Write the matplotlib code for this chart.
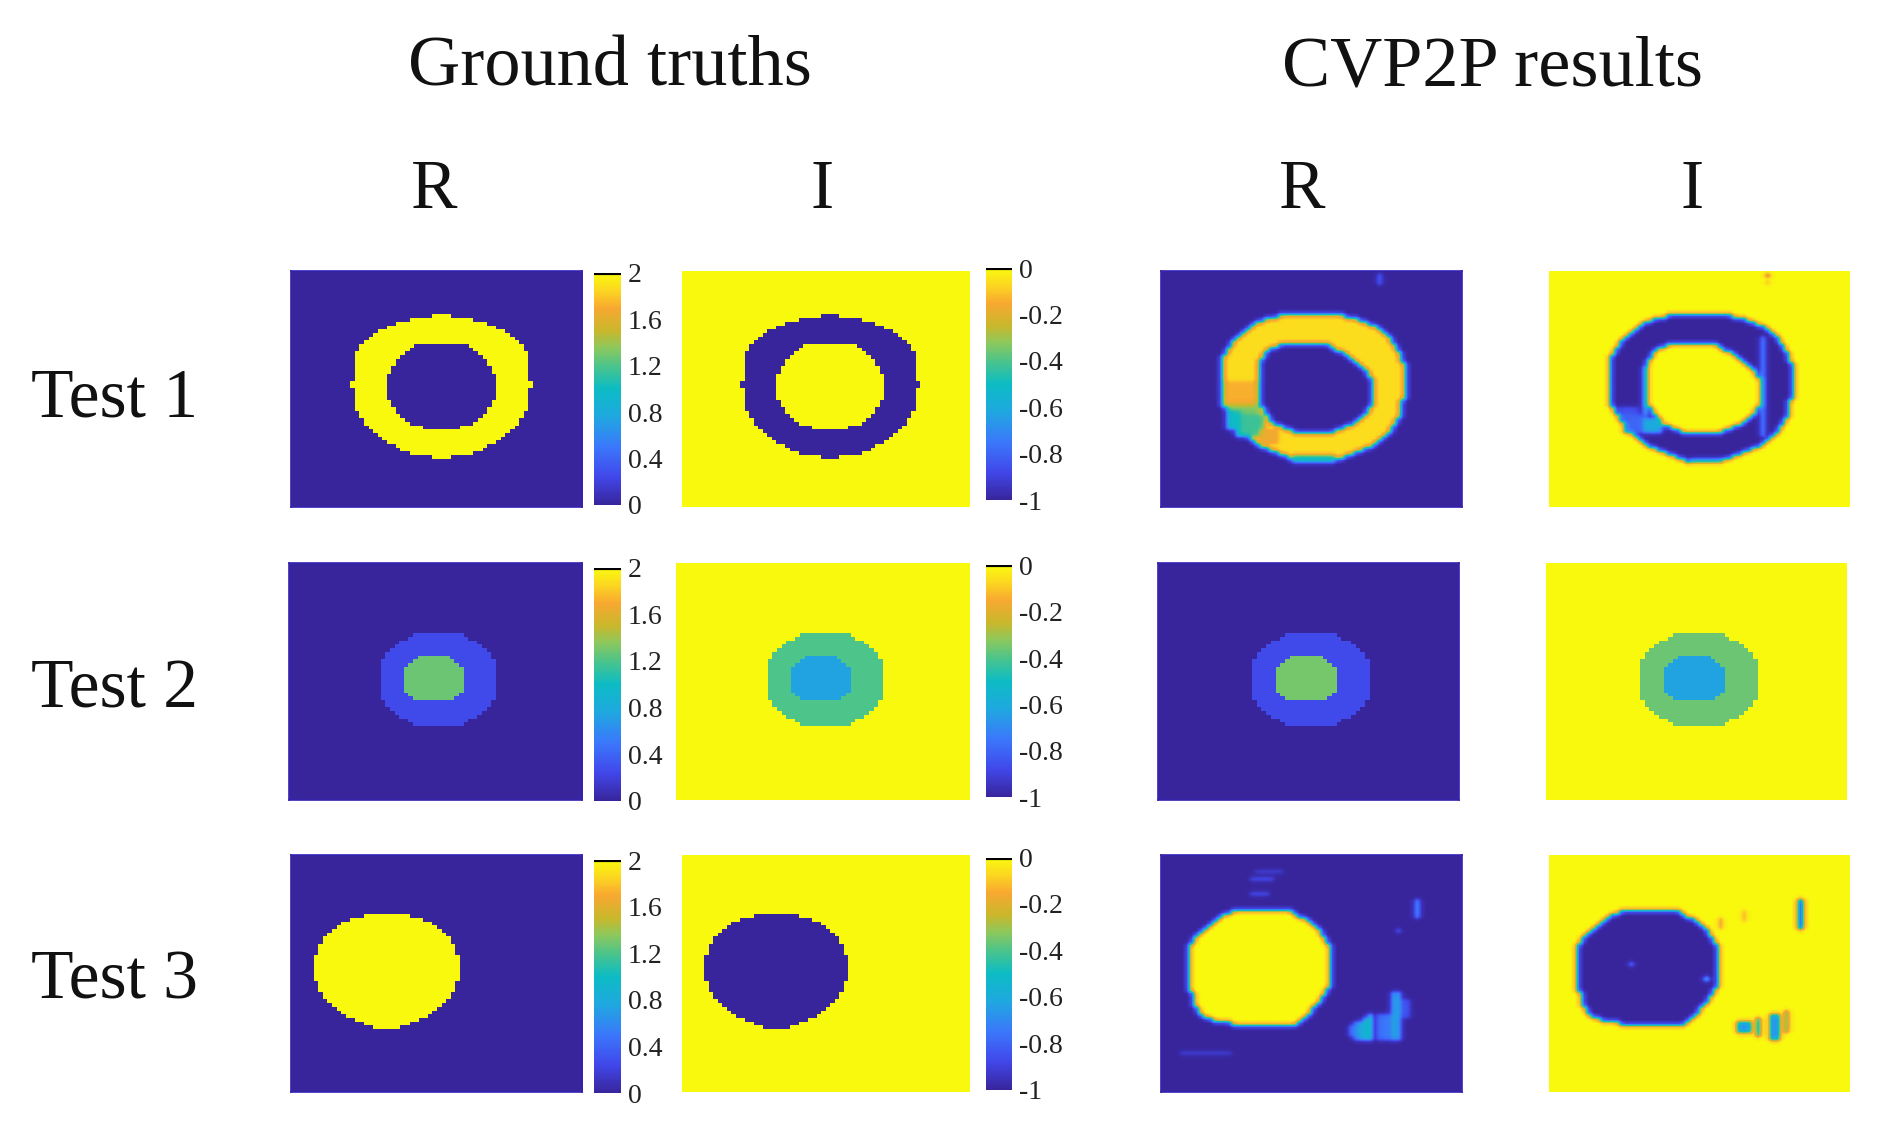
#!/usr/bin/env python

import numpy as np
import matplotlib
matplotlib.use('Agg')
from matplotlib import pyplot as plt
from matplotlib import cm
from matplotlib.colors import LinearSegmentedColormap, Normalize

plt.rcParams['font.family'] = ['Liberation Serif', 'DejaVu Serif']

GRID = 64
TITLES = ['Ground truths', 'CVP2P results']
COLUMNS = ['R', 'I', 'R', 'I']
ROWS = ['Test 1', 'Test 2', 'Test 3']
R_TICKS = [0, 0.4, 0.8, 1.2, 1.6, 2]
R_LABELS = ['0', '0.4', '0.8', '1.2', '1.6', '2']
I_TICKS = [-1, -0.8, -0.6, -0.4, -0.2, 0]
I_LABELS = ['-1', '-0.8', '-0.6', '-0.4', '-0.2', '0']

# half widths of the stepped shapes, one entry per grid row
RING_OUTER = [2, 7, 10, 12, 14, 15, 16, 17, 18, 18, 19, 19, 19, 19, 19, 19, 19, 19, 20, 20,
              19, 19, 19, 19, 19, 19, 18, 18, 17, 17, 16, 15, 14, 13, 12, 10, 9, 7, 2]
RING_INNER = [6, 7, 8, 9, 10, 10, 11, 11, 12, 12, 12, 12, 12, 12, 12, 11, 11, 10, 10, 9, 8, 7, 4]
T2_OUTER = [5, 6, 8, 9, 10, 11, 11, 12, 12, 12, 12, 12, 12, 12, 12, 12, 12, 12, 11, 11, 10, 9, 8, 6, 5]
T2_INNER = [3, 4, 5, 6, 6, 6, 6, 6, 6, 6, 5, 4]
T3_BLOB = [5, 8, 10, 11, 12, 13, 14, 14, 15, 15, 15, 16, 16, 16, 16, 16, 16, 16, 15,
           15, 15, 14, 14, 13, 12, 11, 10, 9, 7, 5, 3]

# left and right columns of the predicted shapes, row by row
PRED_RING_L = [25, 22, 20, 19, 18, 17, 16, 15, 15, 14, 14, 13, 13, 13, 13, 13, 13, 13, 13, 13,
               13, 13, 13, 13, 13, 14, 14, 15, 15, 16, 17, 18, 18, 19, 20, 21, 23, 25, 27, 29]
PRED_RING_R = [38, 41, 43, 45, 46, 47, 48, 48, 49, 49, 50, 50, 50, 51, 51, 51, 51, 51, 51, 51,
               51, 51, 51, 50, 50, 50, 50, 50, 49, 49, 48, 48, 47, 46, 45, 44, 42, 40, 38, 34]
PRED_HOLE_L = [25, 23, 22, 22, 21, 21, 21, 21, 21, 21, 21, 21, 21, 21, 21, 21, 21,
               22, 22, 23, 23, 24, 26, 28]
PRED_HOLE_R = [35, 36, 38, 39, 40, 41, 42, 43, 43, 44, 44, 44, 44, 44, 44,
               44, 44, 43, 43, 42, 41, 40, 38, 36]
PRED_BLOB_L = [15, 13, 12, 11, 10, 9, 8, 7, 7, 6, 6, 6, 6, 6, 6, 6, 6, 6, 6, 6, 6, 6,
               7, 7, 7, 7, 8, 8, 9, 11, 15]
PRED_BLOB_R = [27, 28, 30, 31, 32, 33, 33, 34, 34, 35, 35, 35, 35, 35, 35, 35, 35, 35, 35, 35, 35,
               34, 34, 33, 33, 32, 31, 31, 30, 29, 28]

# artefacts in the network output: first row, last row, first col, last col, value
T1_R_SPOTS = [(30, 36, 13, 20, 1.72), (36, 37, 14, 20, 1.5), (37, 39, 14, 20, 1.3),
              (39, 44, 16, 21, 1.15), (38, 42, 14, 16, 1.0), (43, 46, 21, 24, 1.65),
              (50, 51, 28, 36, 1.0), (1, 3, 46, 46, 0.4)]
T1_I_SPOTS = [(37, 39, 15, 18, -0.85), (39, 43, 16, 20, -0.8), (40, 43, 20, 23, -0.6),
              (26, 38, 20, 20, -0.6), (18, 44, 45, 45, -0.7),
              (51, 51, 30, 36, -0.6), (1, 1, 46, 46, -0.4), (3, 3, 46, 46, -0.15)]
T3_R_SPOTS = [(12, 16, 54, 54, 0.7), (20, 20, 50, 50, 0.4), (46, 48, 40, 40, 0.5),
              (45, 49, 41, 41, 0.6), (45, 49, 42, 42, 0.8), (44, 49, 43, 43, 0.9),
              (43, 49, 44, 44, 1.05), (43, 49, 46, 48, 0.5), (37, 49, 49, 50, 0.75),
              (39, 43, 51, 52, 0.3), (4, 4, 20, 25, 0.2), (6, 6, 19, 23, 0.3),
              (10, 10, 19, 22, 0.3), (53, 53, 4, 14, 0.2)]
T3_I_SPOTS = [(12, 19, 53, 53, -1.0), (17, 19, 36, 36, -0.2), (15, 17, 41, 41, -0.15),
              (45, 47, 40, 42, -0.7), (44, 48, 44, 44, -0.6), (43, 49, 47, 48, -0.75),
              (42, 47, 50, 50, -0.4), (29, 29, 17, 17, -0.7), (33, 33, 33, 33, -0.4)]

# panel boxes (left, right, top, bottom) in the 1568 wide layout
GT_R_X = [(241, 482), (239, 482), (241, 482)]
GT_I_X = [(565, 803), (560, 803), (565, 803)]
PR_R_X = [(961, 1210), (959, 1208), (961, 1210)]
PR_I_X = [(1282, 1531), (1280, 1529), (1282, 1531)]
PANEL_Y = [(224, 420), (466, 662), (708, 904)]
R_BAR_Y = [(226, 418), (470, 663), (712, 905)]
I_BAR_Y = [(222, 414), (468, 660), (710, 902)]
ROW_TEXT_Y = [331, 572, 813]

colors = ['#38259c', '#4147ea', '#3b78fb', '#1fa8e0', '#0cbcc4', '#4cc48a',
          '#8ec85c', '#c8b82c', '#f8a830', '#fcd820', '#f9f90e']
stops = [0, 0.12, 0.25, 0.38, 0.5, 0.6, 0.68, 0.75, 0.85, 0.93, 1]
cmap = LinearSegmentedColormap.from_list('scan', list(zip(stops, colors)))

W, H = 1894., 1135.
SCALE = W / 1568.


def add_box(fig, x0, x1, y0, y1):
    return fig.add_axes([x0 * SCALE / W, 1 - y1 * SCALE / H,
                         (x1 - x0) * SCALE / W, (y1 - y0) * SCALE / H])


def centered(first, half, center=32, trim=0):
    """ stepped shape, symmetric about a column """
    return [(first + i, center - h, center + h - trim) for i, h in enumerate(half)]


def spans(first, left, right):
    return [(first + i, l, r) for i, (l, r) in enumerate(zip(left, right))]


def paint(grid, shape, value):
    for row, l, r in shape:
        grid[row, l:r + 1] = value


def spots(grid, items):
    for r0, r1, c0, c1, v in items:
        grid[r0:r1 + 1, c0:c1 + 1] = v


def field(layers, extra=()):
    grid = np.zeros((GRID, GRID))
    for shape, value in layers:
        paint(grid, shape, value)
    spots(grid, extra)
    return grid


def soften(grid):
    # the network output has no hard cell edges
    k = [0.12, 0.76, 0.12]
    out = np.array([np.convolve(r, k, mode='same') for r in grid])
    return np.array([np.convolve(c, k, mode='same') for c in out.T]).T


def show(fig, box, grid, vmin, vmax, interp, edge=None):
    ax = add_box(fig, *box)
    ax.imshow(grid, cmap=cmap, vmin=vmin, vmax=vmax, aspect='auto', interpolation=interp)
    ax.set_xticks([])
    ax.set_yticks([])
    for s in ax.spines.values():
        if edge is None:
            s.set_visible(False)
        else:
            s.set_color(edge)
            s.set_linewidth(1.2)
    return ax


def colorbar(fig, box, vmin, vmax, ticks, labels):
    cax = add_box(fig, *box)
    sm = cm.ScalarMappable(norm=Normalize(vmin, vmax), cmap=cmap)
    cb = fig.colorbar(sm, cax=cax, ticks=ticks)
    cb.set_ticklabels(labels)
    cb.outline.set_visible(False)
    cax.tick_params(length=0, pad=5, labelsize=20, labelcolor='#222222')
    cax.axhline(vmax, color='black', lw=3)


def run(filename='out.png'):
    fig = plt.figure(figsize=(W / 100, H / 100), dpi=100)

    ring = centered(12, RING_OUTER, center=33, trim=1)
    hole = centered(20, RING_INNER, center=33, trim=1)
    t2_out = centered(19, T2_OUTER)
    t2_in = centered(25, T2_INNER, center=31)
    t3 = centered(16, T3_BLOB, center=21, trim=1)
    p_ring = spans(12, PRED_RING_L, PRED_RING_R)
    p_hole = spans(20, PRED_HOLE_L, PRED_HOLE_R)
    p_blob = spans(15, PRED_BLOB_L, PRED_BLOB_R)

    gt_r = [field([(ring, 2), (hole, 0)]),
            field([(t2_out, 0.25), (t2_in, 1.28)]),
            field([(t3, 2)])]
    gt_i = [field([(ring, -1), (hole, 0)]),
            field([(t2_out, -0.4), (t2_in, -0.63)]),
            field([(t3, -1)])]
    pr_r = [soften(field([(p_ring, 1.88), (p_hole, 0)], T1_R_SPOTS)),
            field([(t2_out, 0.25), (t2_in, 1.3)]),
            soften(field([(p_blob, 2)], T3_R_SPOTS))]
    pr_i = [soften(field([(p_ring, -1), (p_hole, 0)], T1_I_SPOTS)),
            field([(t2_out, -0.36), (t2_in, -0.63)]),
            soften(field([(p_blob, -1)], T3_I_SPOTS))]
    interp = ['bilinear', 'nearest', 'bilinear']

    for i in range(3):
        y0, y1 = PANEL_Y[i]
        show(fig, (GT_R_X[i][0], GT_R_X[i][1], y0, y1), gt_r[i], 0, 2, 'nearest', '#3322b0')
        show(fig, (GT_I_X[i][0], GT_I_X[i][1], y0, y1), gt_i[i], -1, 0, 'nearest')
        show(fig, (PR_R_X[i][0], PR_R_X[i][1], y0, y1), pr_r[i], 0, 2, interp[i], '#3322b0')
        show(fig, (PR_I_X[i][0], PR_I_X[i][1], y0, y1), pr_i[i], -1, 0, interp[i])
        colorbar(fig, (492, 514, R_BAR_Y[i][0], R_BAR_Y[i][1]), 0, 2, R_TICKS, R_LABELS)
        colorbar(fig, (816, 838, I_BAR_Y[i][0], I_BAR_Y[i][1]), -1, 0, I_TICKS, I_LABELS)
        fig.text(26 * SCALE / W, 1 - ROW_TEXT_Y[i] * SCALE / H, ROWS[i], fontsize=50,
                 ha='left', va='center', color='#111111')

    for x, t in zip([505, 1236], TITLES):
        fig.text(x * SCALE / W, 1 - 56 * SCALE / H, t, fontsize=52,
                 ha='center', va='center', color='#111111')
    for x, t in zip([359, 681, 1078, 1401], COLUMNS):
        fig.text(x * SCALE / W, 1 - 158 * SCALE / H, t, fontsize=50,
                 ha='center', va='center', color='#111111')

    plt.savefig(filename, dpi=100)
    plt.close(fig)


if __name__ == '__main__':
    run()
